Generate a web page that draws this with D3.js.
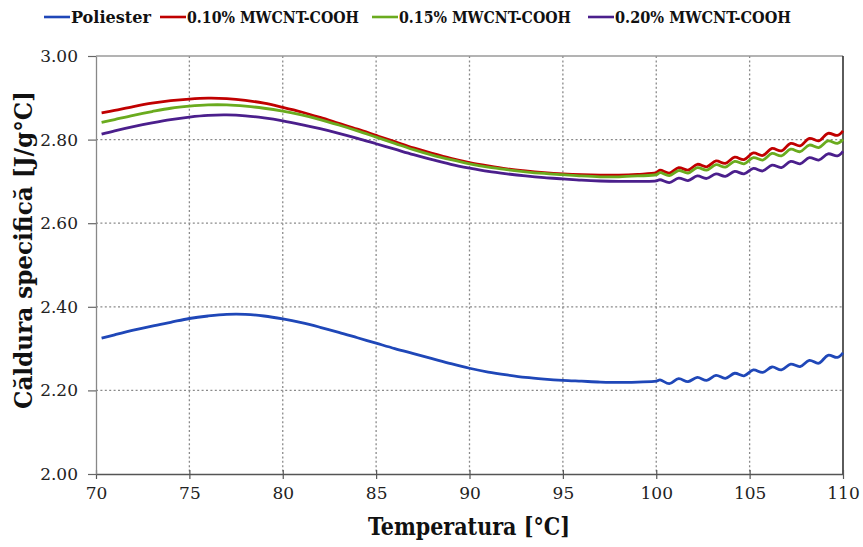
<!DOCTYPE html>
<html>
<head>
<meta charset="utf-8">
<script src="https://cdn.jsdelivr.net/npm/d3@7"></script>
<style>
  html, body { margin: 0; padding: 0; background: #fff; }
  svg { display: block; }
</style>
</head>
<body>
<svg id="chart" width="863" height="547"></svg>
<script>
// Temperature samples (°C)
const temperatures = [
  70.3, 71, 72, 73, 74, 75, 76, 77, 78, 79, 80, 81, 82, 83, 84, 85, 86, 87, 88, 89,
  90, 91, 92, 93, 94, 95, 96, 97, 98, 99, 100,
  100.2, 100.7, 101.2, 101.7, 102.2, 102.7, 103.2, 103.7, 104.2, 104.7,
  105.2, 105.7, 106.2, 106.7, 107.2, 107.7, 108.2, 108.7, 109.2, 109.7, 110
];

// Specific heat, J/g°C
const poliester = [
  2.325, 2.333, 2.344, 2.354, 2.363, 2.372, 2.378, 2.382, 2.382, 2.378, 2.371, 2.362, 2.351, 2.339, 2.326, 2.313, 2.300, 2.288, 2.276, 2.264,
  2.253, 2.244, 2.237, 2.231, 2.227, 2.224, 2.222, 2.220, 2.219, 2.220, 2.222,
  2.225, 2.216, 2.228, 2.221, 2.231, 2.224, 2.236, 2.229, 2.241, 2.235,
  2.249, 2.243, 2.256, 2.249, 2.263, 2.257, 2.272, 2.265, 2.284, 2.279, 2.290
];
const mwcnt010 = [
  2.864, 2.870, 2.879, 2.887, 2.893, 2.897, 2.899, 2.898, 2.894, 2.887, 2.877, 2.866, 2.853, 2.839, 2.825, 2.810, 2.795, 2.780, 2.767, 2.755,
  2.745, 2.737, 2.730, 2.725, 2.721, 2.718, 2.716, 2.715, 2.715, 2.717, 2.721,
  2.727, 2.720, 2.733, 2.727, 2.741, 2.735, 2.749, 2.743, 2.758, 2.752,
  2.768, 2.762, 2.779, 2.773, 2.791, 2.785, 2.803, 2.797, 2.815, 2.810, 2.821
];
const mwcnt015 = [
  2.841, 2.848, 2.858, 2.867, 2.875, 2.880, 2.883, 2.883, 2.880, 2.875, 2.868, 2.859, 2.848, 2.835, 2.821, 2.806, 2.791, 2.776, 2.763, 2.752,
  2.742, 2.734, 2.728, 2.723, 2.719, 2.716, 2.713, 2.711, 2.711, 2.713, 2.716,
  2.721, 2.714, 2.726, 2.720, 2.733, 2.727, 2.740, 2.734, 2.748, 2.742,
  2.757, 2.751, 2.767, 2.761, 2.777, 2.771, 2.787, 2.781, 2.797, 2.791, 2.800
];
const mwcnt020 = [
  2.813, 2.821, 2.831, 2.840, 2.848, 2.854, 2.858, 2.859, 2.857, 2.852, 2.845, 2.836, 2.826, 2.815, 2.803, 2.790, 2.777, 2.764, 2.752, 2.741,
  2.732, 2.724, 2.718, 2.713, 2.709, 2.706, 2.703, 2.701, 2.700, 2.700, 2.701,
  2.704, 2.697, 2.708, 2.702, 2.713, 2.707, 2.718, 2.712, 2.724, 2.718,
  2.731, 2.725, 2.739, 2.733, 2.748, 2.742, 2.757, 2.751, 2.766, 2.761, 2.772
];

const seriesNames = ["Poliester", "0.10% MWCNT-COOH", "0.15% MWCNT-COOH", "0.20% MWCNT-COOH"];
const seriesColors = ["#1f47b8", "#c00000", "#6aab1e", "#4b1f8c"];
const seriesValues = [poliester, mwcnt010, mwcnt015, mwcnt020];

const xTicks = [70, 75, 80, 85, 90, 95, 100, 105, 110];
const yTicks = [2.00, 2.20, 2.40, 2.60, 2.80, 3.00];

const xTitle = "Temperatura [°C]";
const yTitle = "Căldura specifică [J/g°C]";

const svg = d3.select("#chart");
const plot = { left: 96, right: 843, top: 56, bottom: 474 };

const x = d3.scaleLinear().domain([70, 110]).range([plot.left, plot.right]);
const y = d3.scaleLinear().domain([2, 3]).range([plot.bottom, plot.top]);

const tickFont = "'DejaVu Serif', serif";
const titleFont = "'DejaVu Serif Condensed', 'DejaVu Serif', serif";

// Dotted grid
const grid = svg.append("g").attr("class", "grid");
grid.selectAll("line.h")
  .data(yTicks.filter(v => v > 2 && v < 3))
  .join("line")
  .attr("x1", plot.left).attr("x2", plot.right)
  .attr("y1", d => y(d)).attr("y2", d => y(d))
  .attr("stroke", "#8a8a8a").attr("stroke-width", 1.3)
  .attr("stroke-dasharray", "2,2.4");
grid.selectAll("line.v")
  .data(xTicks.filter(v => v > 70 && v < 110))
  .join("line")
  .attr("y1", plot.top).attr("y2", plot.bottom)
  .attr("x1", d => x(d)).attr("x2", d => x(d))
  .attr("stroke", "#8a8a8a").attr("stroke-width", 1.3)
  .attr("stroke-dasharray", "2,2.4");

// Frame: top and right edges
svg.append("line")
  .attr("x1", plot.left).attr("x2", plot.right)
  .attr("y1", y(3)).attr("y2", y(3))
  .attr("stroke", "#9a9a9a").attr("stroke-width", 1.3);
svg.append("line")
  .attr("x1", plot.right).attr("x2", plot.right)
  .attr("y1", plot.top).attr("y2", plot.bottom)
  .attr("stroke", "#333").attr("stroke-width", 1.6);

// Axes
const xAxis = d3.axisBottom(x).tickValues(xTicks).tickSize(5).tickSizeOuter(0).tickFormat(d3.format("d"));
const yAxis = d3.axisLeft(y).tickValues(yTicks).tickSize(8).tickSizeOuter(0).tickFormat(d3.format(".2f"));

const gx = svg.append("g").attr("transform", `translate(0,${plot.bottom})`).call(xAxis);
gx.select(".domain").attr("stroke", "#555").attr("stroke-width", 1.5);
gx.selectAll(".tick line").attr("stroke", "#555").attr("stroke-width", 1.2).attr("y1", -4);
gx.selectAll(".tick text")
  .attr("font-family", tickFont).attr("font-size", 17).attr("fill", "#222")
  .attr("dy", "0.71em").attr("y", 13);

const gy = svg.append("g").attr("transform", `translate(${plot.left},0)`).call(yAxis);
gy.select(".domain").attr("stroke", "#888").attr("stroke-width", 1.3);
gy.selectAll(".tick line").attr("stroke", "#666").attr("stroke-width", 1.2);
gy.selectAll(".tick text")
  .attr("font-family", tickFont).attr("font-size", 17).attr("fill", "#222")
  .attr("x", -18);

// Axis titles
svg.append("text")
  .attr("x", 469).attr("y", 535)
  .attr("text-anchor", "middle")
  .attr("font-family", titleFont).attr("font-weight", "bold")
  .attr("font-size", 25).attr("fill", "#111")
  .attr("textLength", 202).attr("lengthAdjust", "spacingAndGlyphs")
  .text(xTitle);
svg.append("text")
  .attr("transform", `translate(32,${(plot.top + plot.bottom) / 2 - 15}) rotate(-90)`)
  .attr("text-anchor", "middle")
  .attr("font-family", titleFont).attr("font-weight", "bold")
  .attr("font-size", 24).attr("fill", "#111")
  .attr("textLength", 318).attr("lengthAdjust", "spacingAndGlyphs")
  .text(yTitle);

// Series lines
const line = d3.line()
  .x((d, i) => x(temperatures[i]))
  .y(d => y(d))
  .curve(d3.curveCatmullRom.alpha(0.5));

svg.append("g").selectAll("path")
  .data(seriesValues)
  .join("path")
  .attr("d", d => line(d))
  .attr("fill", "none")
  .attr("stroke", (d, i) => seriesColors[i])
  .attr("stroke-width", 2.8)
  .attr("stroke-linejoin", "round");

// Legend
const legendX = [44, 160, 372, 588];
const legendTextWidth = [80, 172, 172, 176];
const legend = svg.append("g").attr("class", "legend");
const items = legend.selectAll("g")
  .data(seriesNames)
  .join("g")
  .attr("transform", (d, i) => `translate(${legendX[i]},17)`);
items.append("line")
  .attr("x1", 0).attr("x2", 26).attr("y1", 0).attr("y2", 0)
  .attr("stroke", (d, i) => seriesColors[i]).attr("stroke-width", 2.6);
items.append("text")
  .attr("x", 27).attr("y", 0).attr("dy", "0.36em")
  .attr("font-family", titleFont).attr("font-weight", "bold")
  .attr("font-size", 17).attr("fill", "#111")
  .attr("textLength", (d, i) => legendTextWidth[i]).attr("lengthAdjust", "spacingAndGlyphs")
  .text(d => d);
</script>
</body>
</html>
